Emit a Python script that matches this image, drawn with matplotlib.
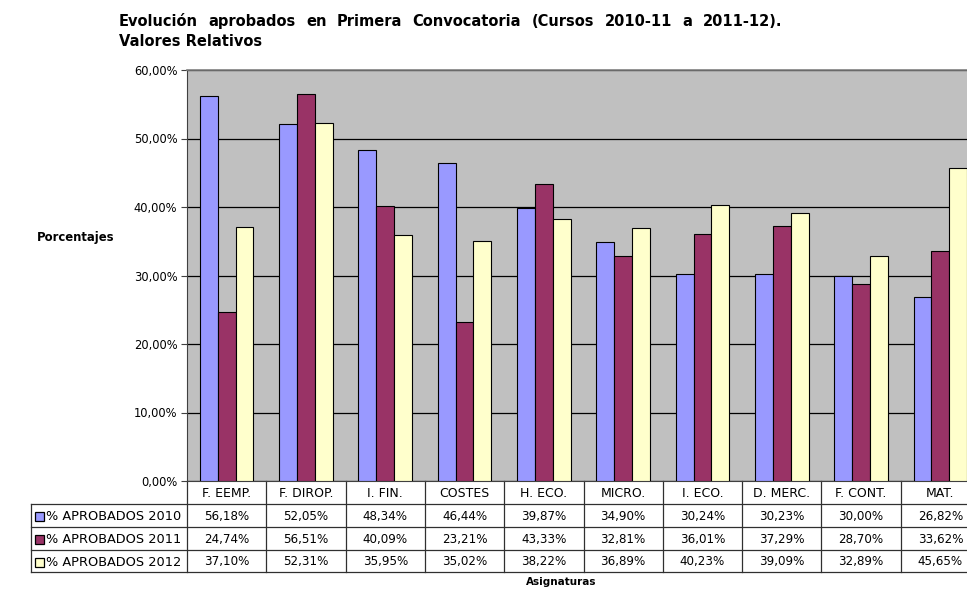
import numpy as np
import matplotlib.pyplot as plt
from matplotlib.transforms import blended_transform_factory
from matplotlib.patches import Rectangle

# Asignaturas y porcentajes de aprobados en primera convocatoria
ASIGNATURAS = ["F. EEMP.", "F. DIROP.", "I. FIN.", "COSTES", "H. ECO.",
               "MICRO.", "I. ECO.", "D. MERC.", "F. CONT.", "MAT."]
APROB_2010 = [56.18, 52.05, 48.34, 46.44, 39.87, 34.90, 30.24, 30.23, 30.00, 26.82]
APROB_2011 = [24.74, 56.51, 40.09, 23.21, 43.33, 32.81, 36.01, 37.29, 28.70, 33.62]
APROB_2012 = [37.10, 52.31, 35.95, 35.02, 38.22, 36.89, 40.23, 39.09, 32.89, 45.65]
SERIES = ["% APROBADOS 2010", "% APROBADOS 2011", "% APROBADOS 2012"]
COLORES = ["#9999FF", "#993366", "#FFFFCC"]
Y_TICKS = [0, 10, 20, 30, 40, 50, 60]
TITULO_1 = "Evolución aprobados en Primera Convocatoria (Cursos 2010-11 a 2011-12)."
TITULO_2 = "Valores Relativos"

plt.rcParams['font.family'] = ['DejaVu Sans']

W, H = 967, 590
fig = plt.figure(figsize=(W / 100, H / 100), dpi=100)


def fy(px):
    # pixel desde arriba -> fraccion de figura
    return (H - px) / H


def fx(px):
    return px / W


def pct(v):
    return f"{v:.2f}%".replace(".", ",")


# area de trazado (se sale un poco por la derecha)
left_px, right_px, top_px, bot_px = 187, 980, 70, 481
ax = fig.add_axes([fx(left_px), fy(bot_px), (right_px - left_px) / W,
                   (bot_px - top_px) / H])
ax.set_facecolor("#C0C0C0")

x = np.arange(len(ASIGNATURAS))
ancho = 0.225
for i, (vals, col) in enumerate(zip([APROB_2010, APROB_2011, APROB_2012], COLORES)):
    ax.bar(x + (i - 1) * ancho, vals, ancho, color=col, edgecolor="black",
           linewidth=0.8, zorder=3)

ax.set_xlim(-0.5, len(ASIGNATURAS) - 0.5)
ax.set_ylim(0, 60)
ax.set_yticks(Y_TICKS)
ax.set_yticklabels([pct(v) for v in Y_TICKS], fontsize=8.3)
ax.yaxis.grid(True, color="black", linewidth=0.9, zorder=1)
ax.set_axisbelow(True)
ax.set_xticks([])
ax.tick_params(axis="y", direction="out", length=4, width=0.8, color="#404040", pad=3)
ax.spines["right"].set_visible(False)
ax.spines["top"].set_color("#808080")
ax.spines["top"].set_linewidth(1.2)
ax.spines["left"].set_color("#404040")
ax.spines["bottom"].set_color("#404040")

# tabla de datos bajo el grafico
tr = blended_transform_factory(ax.transData, fig.transFigure)
line_kw = dict(color="#303030", linewidth=0.9, clip_on=False)
filas_px = [481, 504, 527, 550, 572]
leg_left = 31

for yp in filas_px[1:]:
    fig.add_artist(plt.Line2D([fx(leg_left), fx(right_px)], [fy(yp), fy(yp)],
                              transform=fig.transFigure, **line_kw))
for k in range(len(ASIGNATURAS) + 1):
    ax.plot([k - 0.5, k - 0.5], [fy(filas_px[0]), fy(filas_px[-1])],
            transform=tr, **line_kw)
fig.add_artist(plt.Line2D([fx(leg_left), fx(leg_left)], [fy(filas_px[1]), fy(filas_px[-1])],
                          transform=fig.transFigure, **line_kw))

for xi, nombre in zip(x, ASIGNATURAS):
    ax.text(xi, fy((filas_px[0] + filas_px[1]) / 2 + 1), nombre, transform=tr,
            ha="center", va="center", fontsize=9)

for r, (nombre, vals, col) in enumerate(zip(SERIES, [APROB_2010, APROB_2011, APROB_2012], COLORES)):
    yc = (filas_px[r + 1] + filas_px[r + 2]) / 2 + 1
    fig.patches.append(Rectangle((fx(35), fy(yc + 4.5)), 9 / W, 9 / H,
                                 transform=fig.transFigure, facecolor=col,
                                 edgecolor="black", linewidth=0.9))
    fig.text(fx(46), fy(yc), nombre, ha="left", va="center", fontsize=9.3)
    for xi, v in zip(x, vals):
        ax.text(xi, fy(yc), pct(v), transform=tr,
                ha="center", va="center", fontsize=8.6)

# titulo justificado entre x=119 y x=782, palabras alineadas por la linea base
tit_kw = dict(ha="left", va="baseline", fontsize=10.5, fontweight="bold")
palabras = [fig.text(0, fy(26), p, **tit_kw) for p in TITULO_1.split()]
fig.canvas.draw()
ren = fig.canvas.get_renderer()
anchos = [t.get_window_extent(ren).width for t in palabras]
hueco = (782 - 119 - sum(anchos)) / (len(palabras) - 1)
pos = 119
for t, a in zip(palabras, anchos):
    t.set_x(fx(pos))
    pos += a + hueco
fig.text(fx(119), fy(46), TITULO_2, **tit_kw)

fig.text(fx(37), fy(237), "Porcentajes", ha="left", va="center",
         fontsize=8.4, fontweight="bold")
fig.text(fx(561), fy(582), "Asignaturas", ha="center", va="center",
         fontsize=7.5, fontweight="bold")

fig.savefig("out.png", dpi=100)
